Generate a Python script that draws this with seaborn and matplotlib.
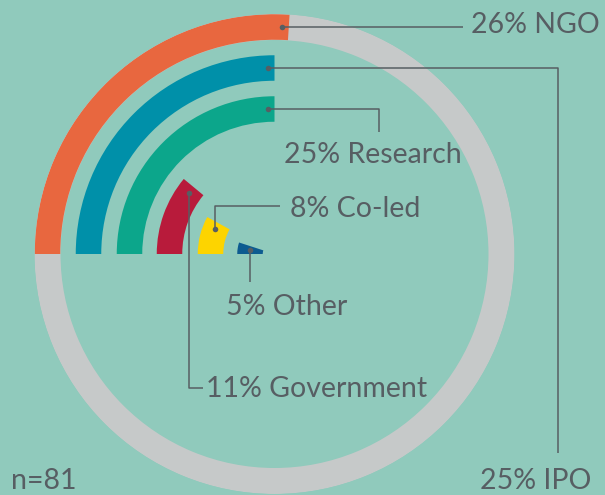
import numpy as np
import matplotlib
matplotlib.use("Agg")
import matplotlib.pyplot as plt
import seaborn as sns

# data
categories = ["NGO", "IPO", "Research", "Government", "Co-led", "Other"]
shares = [26, 25, 25, 11, 8, 5]
colors = ["#e8673f", "#0090a9", "#0ca68b", "#b81b3b", "#fdd400", "#0d5b90"]
n_label = "n=81"

bg = "#90cabc"
ring_grey = "#c6c9c9"
ink = "#575e63"

sns.set_theme(style="white", rc={"figure.facecolor": bg, "axes.facecolor": "none"})
plt.rcParams["font.family"] = ["Lato", "DejaVu Sans"]

W, H = 605, 495
cx, cy, R = 274.5, 254, 240

fig = plt.figure(figsize=(W / 100, H / 100), dpi=100)

ax = fig.add_axes([(cx - R) / W, (H - cy - R) / H, 2 * R / W, 2 * R / H],
                  projection="polar")
ax.set_theta_zero_location("W")
ax.set_theta_direction(-1)
ax.set_rlim(0, R)
ax.set_axis_off()

radii = [227, 186, 145, 105, 64, 24.5]
ring_w = 25.5

# full grey track behind the outer bar
ax.barh(radii[0], 2 * np.pi, left=0, height=26, color=ring_grey, linewidth=0)

thetas = [s / 100 * 2 * np.pi for s in shares]
for r, t, c in zip(radii, thetas, colors):
    ax.barh(r, t, left=0, height=ring_w, color=c, linewidth=0)

# overlay in pixel coordinates for leaders and labels
ov = fig.add_axes([0, 0, 1, 1], zorder=5)
ov.set_xlim(0, W)
ov.set_ylim(H, 0)
ov.set_axis_off()

def dot_at(r, t):
    off = min(7.0 / r, t / 2)
    p = ax.transData.transform((t - off, r))
    return ov.transData.inverted().transform(p)

dots = [dot_at(r, t) for r, t in zip(radii, thetas)]

lw = 1.1
def leader(pts):
    xs, ys = zip(*pts)
    ov.plot(xs, ys, color=ink, lw=lw, solid_capstyle="butt")

d = dots[0]
leader([d, (463, d[1])])
d = dots[1]
leader([d, (558, d[1]), (558, 453)])
d = dots[2]
leader([d, (379, d[1]), (379, 132)])
d = dots[3]
leader([d, (d[0], 388), (203, 388)])
d = dots[4]
leader([d, (d[0], 206), (280, 206)])
d = dots[5]
leader([d, (d[0], 282)])

for d in dots:
    ov.plot(d[0], d[1], "o", color=ink, ms=4, mew=0)

label_pos = [(471, 33), (480, 489), (284, 163), (206, 397), (290, 217), (226, 315)]
fs = 20.5
for cat, s, (x, y) in zip(categories, shares, label_pos):
    ov.text(x, y, f"{s}% {cat}", fontsize=fs, color=ink, ha="left", va="baseline")

ov.text(11, 489, n_label, fontsize=fs, color=ink, ha="left", va="baseline")

fig.savefig("out.png", dpi=100, facecolor=bg)
